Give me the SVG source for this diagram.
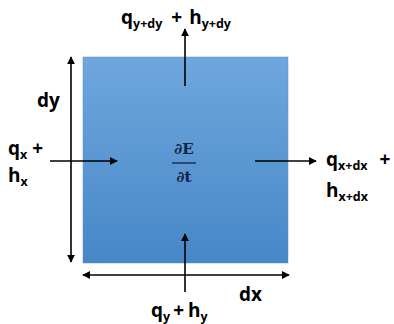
<svg xmlns="http://www.w3.org/2000/svg" width="394" height="324" viewBox="0 0 394 324">
<defs>
<linearGradient id="g" x1="0" y1="0" x2="0" y2="1">
<stop offset="0" stop-color="#6FA7DD"/>
<stop offset="1" stop-color="#4787C8"/>
</linearGradient>
<marker id="ah" viewBox="0 0 10 10" refX="9" refY="5" markerWidth="8" markerHeight="8" markerUnits="userSpaceOnUse" orient="auto-start-reverse">
<path d="M0,0 L10,5 L0,10 z" fill="#000"/>
</marker>
<style>
.t{font-family:"Open Sans","Liberation Sans",sans-serif;font-weight:bold;font-size:19px;fill:#000}
.s{font-size:12.5px}
.m{font-family:"DejaVu Serif","Liberation Serif",serif;font-weight:bold;font-size:15px;fill:#13223d}
.c{stroke:#000;stroke-width:1.6;fill:none}
</style>
</defs>
<g id="box">
<rect x="83" y="57" width="205" height="206" fill="url(#g)" stroke="#5a90c8" stroke-width="0.5"/>
</g>
<g id="connectors">
<line class="c" x1="185" y1="86" x2="185" y2="29" marker-end="url(#ah)"/>
<line class="c" x1="185" y1="292" x2="185" y2="234" marker-end="url(#ah)"/>
<line class="c" x1="50" y1="161" x2="117" y2="161" marker-end="url(#ah)"/>
<line class="c" x1="255" y1="161" x2="316" y2="161" marker-end="url(#ah)"/>
<line class="c" x1="71" y1="57" x2="71" y2="262" marker-start="url(#ah)" marker-end="url(#ah)"/>
<line class="c" x1="83" y1="275" x2="289" y2="275" marker-start="url(#ah)" marker-end="url(#ah)"/>
</g>
<g id="label-top">
<text class="t" x="121" y="24">q<tspan class="s" dy="4">y+dy</tspan><tspan dy="-4" dx="9">+</tspan><tspan dx="7">h</tspan><tspan class="s" dy="4">y+dy</tspan></text>
</g>
<g id="label-dy">
<text class="t" x="37" y="107">dy</text>
</g>
<g id="label-left">
<text class="t" x="8" y="155">q<tspan class="s" dy="4">x</tspan><tspan dy="-4" dx="5">+</tspan></text>
<text class="t" x="8" y="182">h<tspan class="s" dy="4">x</tspan></text>
</g>
<g id="center">
<text class="m" x="184" y="154" text-anchor="middle">∂E</text>
<line x1="172" y1="163" x2="196" y2="163" stroke="#13223d" stroke-width="1.3"/>
<text class="m" x="184" y="182" text-anchor="middle">∂t</text>
</g>
<g id="label-right">
<text class="t" x="326" y="166">q<tspan class="s" dy="4">x+dx</tspan><tspan dy="-4" dx="12">+</tspan></text>
<text class="t" x="326" y="197">h<tspan class="s" dy="4">x+dx</tspan></text>
</g>
<g id="label-dx">
<text class="t" x="239" y="301">dx</text>
</g>
<g id="label-bottom">
<text class="t" x="151" y="317">q<tspan class="s" dy="4">y</tspan><tspan dy="-4" dx="3">+</tspan><tspan dx="4">h</tspan><tspan class="s" dy="4">y</tspan></text>
</g>
</svg>
